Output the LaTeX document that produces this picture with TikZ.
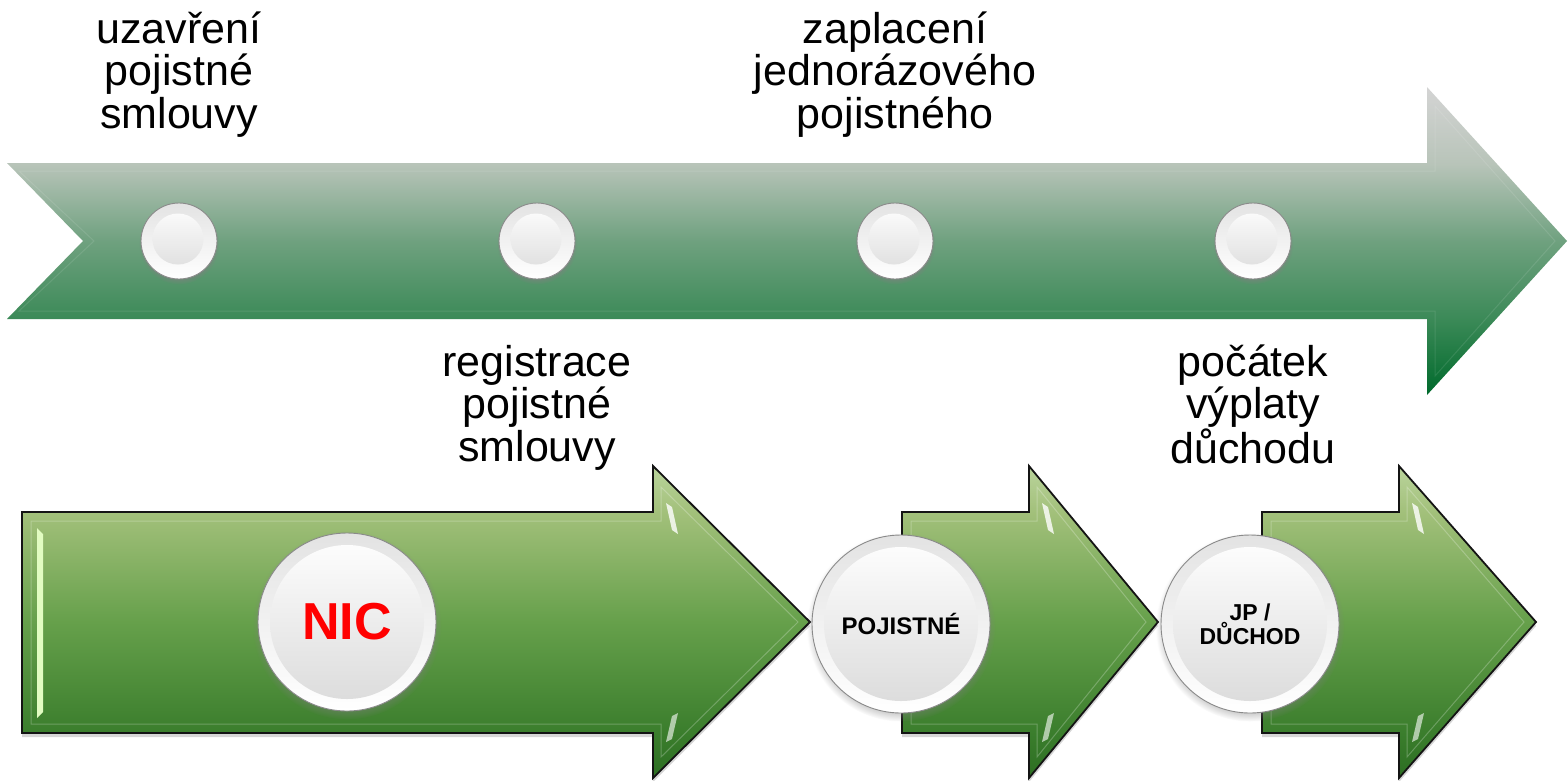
\documentclass[tikz,border=0pt]{standalone}
\usepackage{fontspec}
\setmainfont{Liberation Sans}
\usetikzlibrary{shadows,calc}

% colours of the time line band (bottom to top)
\definecolor{tlA}{HTML}{006A2C}
\definecolor{tlB}{HTML}{3C8A58}
\definecolor{tlC}{HTML}{6FA17F}
\definecolor{tlD}{HTML}{B8C4B9}
\definecolor{tlE}{HTML}{D4D4D4}
% colours of the stage arrows (bottom to top)
\definecolor{stA}{HTML}{2C6E22}
\definecolor{stB}{HTML}{3A7D2C}
\definecolor{stC}{HTML}{66A04B}
\definecolor{stD}{HTML}{A2C07A}
\definecolor{stE}{HTML}{BAD49C}
\definecolor{btnRim}{HTML}{8A8A8A}
\definecolor{btnRing}{HTML}{E3E3E3}
\definecolor{btnCore}{HTML}{DADADA}
\definecolor{glint}{HTML}{E2FCC2}

\pgfdeclareverticalshading{timeline}{100bp}{color(0bp)=(tlA); color(25bp)=(tlA);
  color(37.5bp)=(tlB); color(50bp)=(tlC); color(62.5bp)=(tlD); color(75bp)=(tlE); color(100bp)=(tlE)}
\pgfdeclareverticalshading{stage}{100bp}{color(0bp)=(stA); color(25bp)=(stA);
  color(32bp)=(stB); color(50bp)=(stC); color(67.5bp)=(stD); color(75bp)=(stE); color(100bp)=(stE)}

% one green stage arrow: left edge, start of head, tip
\newcommand\stagearrow[3]{%
  \fill[black, opacity=.16, yshift=-4pt]
    (#1,512) -- (#2,512) -- (#2,466) -- (#3,622) -- (#2,778) -- (#2,733) -- (#1,733) -- cycle;
  \shadedraw[shading=stage, draw=black!92, line width=1.8pt, line join=miter]
    (#1,512) -- (#2,512) -- (#2,466) -- (#3,622) -- (#2,778) -- (#2,733) -- (#1,733) -- cycle;
  \draw[white, opacity=.24, line width=1pt]
    (#1+9,521) -- (#2+8,521) -- (#2+8,487) -- (#3-12,622) -- (#2+8,757) -- (#2+8,724) -- (#1+9,724) -- cycle;
  \fill[white, opacity=.8] (#2+13,503) -- (#2+19,507) -- (#2+25,534) -- (#2+19,530) -- cycle;
  \fill[white, opacity=.6] (#2+13,742) -- (#2+19,739) -- (#2+25,713) -- (#2+19,716) -- cycle;
}

\begin{document}
\begin{tikzpicture}[x=1pt, y=-1pt,
  lbl/.style={inner sep=0pt, anchor=base, font=\fontsize{43}{42.5}\selectfont},
  btn/.style={circle, inner sep=0pt, draw=btnRim, line width=.9pt,
    top color=btnRing, bottom color=white,
    circular drop shadow={shadow xshift=0pt, shadow yshift=-3pt, shadow scale=1.06, opacity=.6}},
  smallbtn/.style={btn, minimum size=76pt,
    path picture={\shade[top color=white, bottom color=btnCore]
      ($(path picture bounding box.center)+(-1,-2)$) circle[radius=25.5pt];}},
  bigbtn/.style={btn, minimum size=178pt, font=\bfseries,
    path picture={\shade[top color=white, bottom color=btnCore]
      (path picture bounding box.center) circle[radius=77pt];}}]
\useasboundingbox (0,0) rectangle (1568,780);

% the time line band with its notched tail
\shade[shading=timeline]
  (7,163) -- (1427,163) -- (1427,87) -- (1567,241) -- (1427,395) -- (1427,319) -- (7,319) -- (83,241) -- cycle;
\draw[white, opacity=.1, line width=1pt]
  (19,171) -- (1435,171) -- (1435,106) -- (1555,241) -- (1435,376) -- (1435,311) -- (19,311) -- (94,241) -- cycle;

% milestones on the time line
\node[smallbtn] (m1) at (179,241) {};
\node[smallbtn] (m2) at (537,241) {};
\node[smallbtn] (m3) at (895,241) {};
\node[smallbtn] (m4) at (1253,241) {};

% milestone captions
\node[lbl] (t1) at (179,43) {\parbox[t]{320pt}{\centering uzavření\\pojistné\\smlouvy}};
\node[lbl] (t3) at (895,43) {\parbox[t]{320pt}{\centering zaplacení\\jednorázového\\pojistného}};
\node[lbl] (t2) at (537,376) {\parbox[t]{320pt}{\centering registrace\\pojistné\\smlouvy}};
\node[lbl] (t4) at (1253,376) {\parbox[t]{320pt}{\centering počátek\\výplaty\\důchodu}};

% stage arrows
\stagearrow{22}{653}{810}
\fill[glint] (37,528) -- (43,534) -- (43,712) -- (37,718) -- cycle;
\stagearrow{902}{1029}{1158}
\stagearrow{1262}{1399}{1536}

% stage badges
\node[bigbtn, text=red, font=\bfseries\fontsize{52}{52}\selectfont] (nic) at (347,622) {NIC};
\node[bigbtn, font=\bfseries\fontsize{24}{24}\selectfont] (poj) at (901,624) {POJISTNÉ};
\node[bigbtn, align=center, font=\bfseries\fontsize{23}{24}\selectfont] (jp) at (1250,624) {JP /\\DŮCHOD};
\end{tikzpicture}
\end{document}
